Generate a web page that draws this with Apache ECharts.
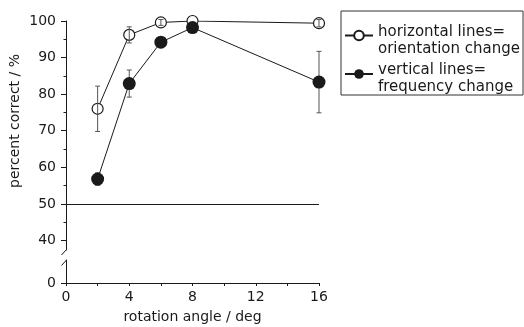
<!DOCTYPE html>
<html><head><meta charset="utf-8">
<script src="https://cdn.jsdelivr.net/npm/echarts@6/dist/echarts.min.js"></script>
<style>html,body{margin:0;padding:0;background:#fff}#c{width:524px;height:327px}</style>
</head><body><div id="c"></div>
<script>
const angles = [2, 4, 6, 8, 16];
const horizMean = [76.0, 96.2, 99.6, 100.0, 99.4];
const horizErr = [6.2, 2.2, 0.8, 0, 1.0];
const vertMean = [56.8, 82.9, 94.2, 98.2, 83.3];
const vertErr = [1.7, 3.7, 1.0, 0.5, 8.4];
const xTicks = [0, 4, 8, 12, 16];
const yTicksUpper = [40, 50, 60, 70, 80, 90, 100];
const yMinorUpper = [45, 55, 65, 75, 85, 95];
const yTicksLower = [0];
const chanceLevel = 50;
const seriesNames = ['horizontal lines=\norientation change', 'vertical lines=\nfrequency change'];

const FONT = 'DejaVu Sans';
const INK = '#1a1a1a';

const errHoriz = angles.map((a, i) => [a, horizMean[i] - horizErr[i], horizMean[i] + horizErr[i]]);
const errVert = angles.map((a, i) => [a, vertMean[i] - vertErr[i], vertMean[i] + vertErr[i]]);

function renderErr(params, api) {
  const x = api.value(0), lo = api.value(1), hi = api.value(2);
  if (hi - lo <= 0) return null;
  const p1 = api.coord([x, lo]), p2 = api.coord([x, hi]);
  const w = 2.5;
  const st = { stroke: '#555', lineWidth: 1 };
  return { type: 'group', children: [
    { type: 'line', shape: { x1: p1[0], y1: p1[1], x2: p2[0], y2: p2[1] }, style: st },
    { type: 'line', shape: { x1: p1[0] - w, y1: p1[1], x2: p1[0] + w, y2: p1[1] }, style: st },
    { type: 'line', shape: { x1: p2[0] - w, y1: p2[1], x2: p2[0] + w, y2: p2[1] }, style: st }
  ]};
}

const chart = echarts.init(document.getElementById('c'), null, { renderer: 'canvas' });
const axisFont = { fontFamily: FONT, fontSize: 14, color: INK };
chart.setOption({
  animation: false,
  backgroundColor: '#fff',
  textStyle: { fontFamily: FONT },
  grid: [
    { left: 66, top: 21, width: 253, height: 229, containLabel: false, outerBoundsMode: 'none' },
    { left: 66, top: 260, width: 253, height: 23, containLabel: false, outerBoundsMode: 'none' }
  ],
  legend: {
    orient: 'vertical', left: 341, top: 11,
    data: seriesNames,
    itemWidth: 28, itemHeight: 12, itemGap: 0,
    padding: [7, 3, 0, 3],
    borderColor: '#333', borderWidth: 1,
    formatter: name => '{s| }\n{t|' + name.split('\n').join('}\n{t|') + '}',
    textStyle: {
      fontFamily: FONT, fontSize: 15, color: INK,
      rich: {
        s: { fontSize: 1, lineHeight: 10 },
        t: { fontFamily: FONT, fontSize: 15, lineHeight: 17, color: INK }
      }
    }
  },
  xAxis: [
    { type: 'value', gridIndex: 0, min: 0, max: 16, show: false },
    { type: 'value', gridIndex: 1, min: 0, max: 16, interval: 2,
      axisLine: { lineStyle: { color: INK, width: 1 } },
      axisTick: { show: true, length: 3, lineStyle: { color: INK } },
      splitLine: { show: false },
      axisLabel: Object.assign({ margin: 7, formatter: v => xTicks.indexOf(v) >= 0 ? String(v) : '' }, axisFont),
      name: 'rotation angle / deg', nameLocation: 'middle', nameGap: 27,
      nameTextStyle: { fontFamily: FONT, fontSize: 14, color: INK }
    }
  ],
  yAxis: [
    { type: 'value', gridIndex: 0, position: 'left', min: 37.4, max: 100,
      axisLine: { show: true, lineStyle: { color: INK, width: 1 } },
      axisTick: { show: true, length: 5, customValues: yTicksUpper, lineStyle: { color: INK } },
      axisLabel: Object.assign({ margin: 10, customValues: yTicksUpper }, axisFont),
      splitLine: { show: false },
      name: 'percent correct / %', nameLocation: 'middle', nameGap: 44, nameRotate: 90,
      nameTextStyle: { fontFamily: FONT, fontSize: 14, color: INK, padding: [0, 0, 0, 29] }
    },
    { type: 'value', gridIndex: 0, position: 'left', offset: 0, min: 37.4, max: 100,
      axisLine: { show: false },
      axisTick: { show: true, length: 2.5, customValues: yMinorUpper, lineStyle: { color: INK } },
      axisLabel: { show: false },
      splitLine: { show: false }
    },
    { type: 'value', gridIndex: 1, position: 'left', min: 0, max: 6.3,
      axisLine: { show: true, lineStyle: { color: INK, width: 1 } },
      axisTick: { show: true, length: 5, customValues: yTicksLower, lineStyle: { color: INK } },
      axisLabel: Object.assign({ margin: 10, customValues: yTicksLower }, axisFont),
      splitLine: { show: false }
    }
  ],
  graphic: [
    { type: 'line', shape: { x1: 61.5, y1: 255, x2: 66.5, y2: 249.5 }, style: { stroke: INK, lineWidth: 1 } },
    { type: 'line', shape: { x1: 61.5, y1: 265.5, x2: 66.5, y2: 260 }, style: { stroke: INK, lineWidth: 1 } }
  ],
  series: [
    { name: seriesNames[0], type: 'line', xAxisIndex: 0, yAxisIndex: 0,
      data: angles.map((a, i) => [a, horizMean[i]]),
      symbol: 'circle', symbolSize: 11, z: 2,
      lineStyle: { color: INK, width: 1 },
      itemStyle: { color: '#fff', borderColor: INK, borderWidth: 1.2 },
      markLine: { silent: true, symbol: 'none', label: { show: false },
        lineStyle: { color: INK, width: 1, type: 'solid' },
        data: [[{ coord: [0, chanceLevel] }, { coord: [16, chanceLevel] }]] }
    },
    { type: 'custom', xAxisIndex: 0, yAxisIndex: 0, z: 3,
      renderItem: renderErr, encode: { x: 0, y: [1, 2] }, data: errHoriz, silent: true },
    { type: 'custom', xAxisIndex: 0, yAxisIndex: 0, z: 4,
      renderItem: renderErr, encode: { x: 0, y: [1, 2] }, data: errVert, silent: true },
    { name: seriesNames[1], type: 'line', xAxisIndex: 0, yAxisIndex: 0,
      data: angles.map((a, i) => [a, vertMean[i]]),
      symbol: 'circle', symbolSize: 13, z: 5,
      lineStyle: { color: INK, width: 1 },
      itemStyle: { color: INK, borderColor: INK, borderWidth: 0 }
    }
  ]
});
</script></body></html>
